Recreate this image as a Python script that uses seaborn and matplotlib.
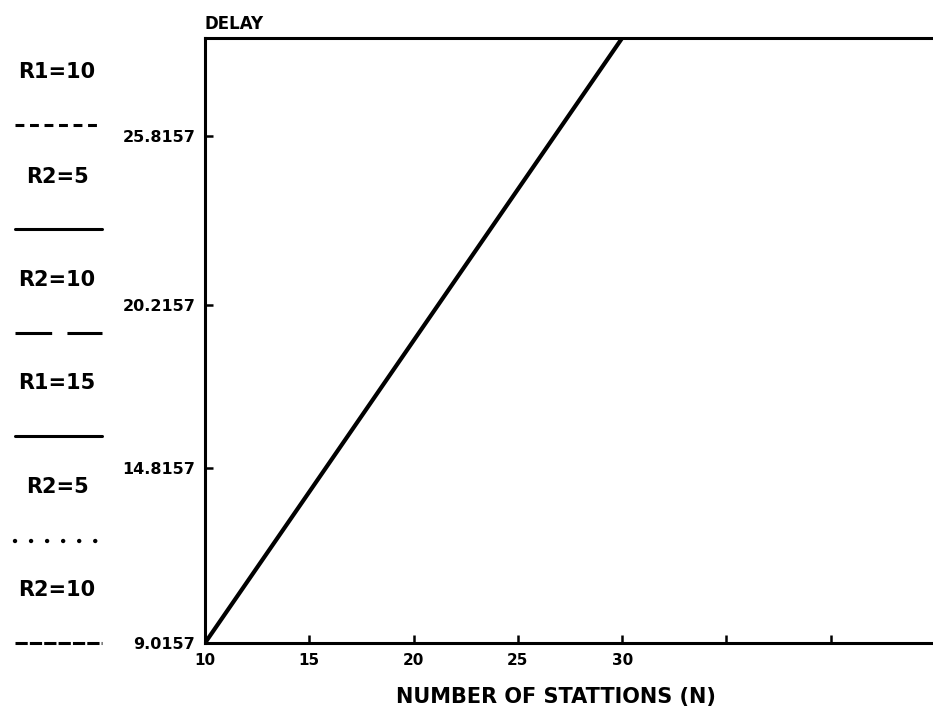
import matplotlib
matplotlib.use("Agg")
import matplotlib.pyplot as plt
from matplotlib.lines import Line2D
import numpy as np
import pandas as pd
import seaborn as sns

# Mean delay versus number of stations
stations = [10, 15, 20, 25, 30]
delay = [9.0157, 14.02, 19.03, 24.04, 29.05]

# Axis ticks
x_ticks = [10, 15, 20, 25, 30, 35, 40]
x_tick_labels = ["10", "15", "20", "25", "30", "", ""]
y_ticks = [9.0157, 14.8157, 20.2157, 25.8157]
y_tick_labels = ["9.0157", "14.8157", "20.2157", "25.8157"]

# Parameter key drawn down the left margin
key_labels = ["R1=10", "R2=5", "R2=10", "R1=15", "R2=5", "R2=10"]
key_styles = [(0, (2.9, 1.85)), "-", (0, (12, 5)), "-", (0, (0.01, 3.6)), (0, (4, 0.7))]
key_widths = [2.2, 2.2, 2.2, 2.2, 3.2, 2.2]

sns.set_style("ticks")
plt.rcParams["font.family"] = ["DejaVu Sans"]
plt.rcParams["font.weight"] = "bold"
plt.rcParams["text.color"] = "black"
plt.rcParams["axes.labelcolor"] = "black"
plt.rcParams["xtick.color"] = "black"
plt.rcParams["ytick.color"] = "black"
plt.rcParams["xtick.direction"] = "in"
plt.rcParams["ytick.direction"] = "in"

fig = plt.figure(figsize=(9.33, 7.14), dpi=100)
ax = fig.add_axes([0.2197, 0.0994, 0.7803, 0.8474])

df = pd.DataFrame({"N": stations, "DELAY": delay})
sns.lineplot(data=df, x="N", y="DELAY", ax=ax, color="black", linewidth=3.0)

ax.set_xlim(10, 44.9)
ax.set_ylim(9.0157, 29.05)

ax.set_xticks(x_ticks)
ax.set_xticklabels(x_tick_labels, fontsize=11, fontweight="bold")
ax.set_yticks(y_ticks)
ax.set_yticklabels(y_tick_labels, fontsize=11.5, fontweight="bold")
ax.tick_params(axis="both", direction="in", length=6, width=1.8, color="black",
               labelcolor="black")
ax.tick_params(axis="x", pad=7)
ax.tick_params(axis="y", pad=7)

for side in ["left", "top", "bottom"]:
    ax.spines[side].set_visible(True)
    ax.spines[side].set_linewidth(2.2)
    ax.spines[side].set_color("black")
ax.spines["right"].set_visible(False)

ax.set_xlabel("NUMBER OF STATTIONS (N)", fontsize=15, fontweight="bold",
              labelpad=14, x=0.482, color="black")
ax.set_ylabel("")
ax.text(0.0, 1.008, "DELAY", transform=ax.transAxes, ha="left", va="bottom",
        fontsize=12, fontweight="bold", color="black")

# Left-margin key: label above its line sample
label_y = [72, 177, 280, 383, 487, 590]
line_y = [125, 229, 333, 436, 541, 643]
W, H = 933, 714
for lab, ly, sy, ls, lw in zip(key_labels, label_y, line_y, key_styles, key_widths):
    fig.text(57 / W, 1 - ly / H, lab, ha="center", va="center",
             fontsize=15, fontweight="bold", color="black")
    fig.add_artist(Line2D([15 / W, 102 / W], [1 - sy / H, 1 - sy / H],
                          transform=fig.transFigure, color="black",
                          linestyle=ls, linewidth=lw,
                          dash_capstyle="round" if lw > 3 else "butt"))

fig.savefig("out.png", dpi=100, facecolor="white")
